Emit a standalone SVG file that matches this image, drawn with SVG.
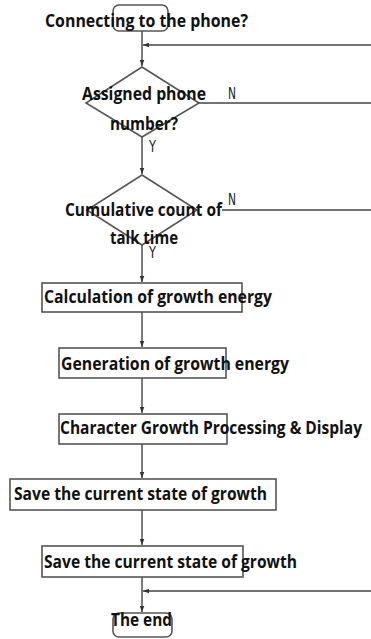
<svg xmlns="http://www.w3.org/2000/svg" width="371" height="639" viewBox="0 0 371 639">
<defs>
<marker id="ah" viewBox="0 0 8 6" refX="8" refY="3" markerWidth="6" markerHeight="5" markerUnits="userSpaceOnUse" orient="auto"><path d="M0,0 L8,3 L0,6 Z" fill="#333"/></marker>
</defs>
<style>
.sh{fill:#fff;stroke:#555;stroke-width:1.6}
.ln{fill:none;stroke:#444;stroke-width:1.4}
.t{font-family:"Open Sans","DejaVu Sans",sans-serif;font-weight:bold;font-size:18px;fill:#111}
.d{font-size:17px}
.yn{font-family:"DejaVu Sans",sans-serif;font-size:15px;fill:#222}
</style>
<rect width="371" height="639" fill="#fff"/>
<g id="connectors">
<path class="ln" d="M142,31 V66" marker-end="url(#ah)"/>
<path class="ln" d="M371,45 H143" marker-end="url(#ah)"/>
<path class="ln" d="M142,137 V174" marker-end="url(#ah)"/>
<path class="ln" d="M199,103 H371"/>
<path class="ln" d="M222,210 H371"/>
<path class="ln" d="M142,245 V282" marker-end="url(#ah)"/>
<path class="ln" d="M142,312 V347" marker-end="url(#ah)"/>
<path class="ln" d="M142,378 V413" marker-end="url(#ah)"/>
<path class="ln" d="M142,444 V478" marker-end="url(#ah)"/>
<path class="ln" d="M142,510 V545" marker-end="url(#ah)"/>
<path class="ln" d="M142,577 V612" marker-end="url(#ah)"/>
<path class="ln" d="M371,591 H143" marker-end="url(#ah)"/>
<text class="yn" x="228" y="99" textLength="8" lengthAdjust="spacingAndGlyphs">N</text>
<text class="yn" x="149" y="152" textLength="7" lengthAdjust="spacingAndGlyphs">Y</text>
<text class="yn" x="228" y="205" textLength="8" lengthAdjust="spacingAndGlyphs">N</text>
<text class="yn" x="149" y="258" textLength="7" lengthAdjust="spacingAndGlyphs">Y</text>
</g>
<g id="start">
<rect class="sh" x="113" y="5" width="55" height="26" rx="6"/>
<text class="t" x="45" y="27" textLength="203" lengthAdjust="spacingAndGlyphs">Connecting to the phone?</text>
</g>
<g id="decision1">
<polygon class="sh" points="142,67 199,103 142,137 86,103"/>
<text class="t d" x="82" y="100" textLength="124" lengthAdjust="spacingAndGlyphs">Assigned phone</text>
<text class="t d" x="110" y="130" textLength="68" lengthAdjust="spacingAndGlyphs">number?</text>
</g>
<g id="decision2">
<polygon class="sh" points="142,175 197,210 142,245 87,210"/>
<text class="t d" x="65" y="216" textLength="157" lengthAdjust="spacingAndGlyphs">Cumulative count of</text>
<text class="t d" x="110" y="244" textLength="68" lengthAdjust="spacingAndGlyphs">talk time</text>
</g>
<g id="calc">
<rect class="sh" x="42" y="283" width="200" height="29"/>
<text class="t" x="44" y="303" textLength="228" lengthAdjust="spacingAndGlyphs">Calculation of growth energy</text>
</g>
<g id="gen">
<rect class="sh" x="59" y="348" width="167" height="30"/>
<text class="t" x="61" y="370" textLength="228" lengthAdjust="spacingAndGlyphs">Generation of growth energy</text>
</g>
<g id="growth">
<rect class="sh" x="59" y="414" width="168" height="30"/>
<text class="t" x="60" y="434" textLength="302" lengthAdjust="spacingAndGlyphs">Character Growth Processing &amp; Display</text>
</g>
<g id="save1">
<rect class="sh" x="10" y="479" width="266" height="31"/>
<text class="t" x="14" y="500" textLength="253" lengthAdjust="spacingAndGlyphs">Save the current state of growth</text>
</g>
<g id="save2">
<rect class="sh" x="42" y="546" width="201" height="31"/>
<text class="t" x="44" y="568" textLength="253" lengthAdjust="spacingAndGlyphs">Save the current state of growth</text>
</g>
<g id="end">
<rect class="sh" x="113" y="613" width="59" height="24" rx="6"/>
<text class="t" x="111" y="626" textLength="61" lengthAdjust="spacingAndGlyphs">The end</text>
</g>
</svg>
